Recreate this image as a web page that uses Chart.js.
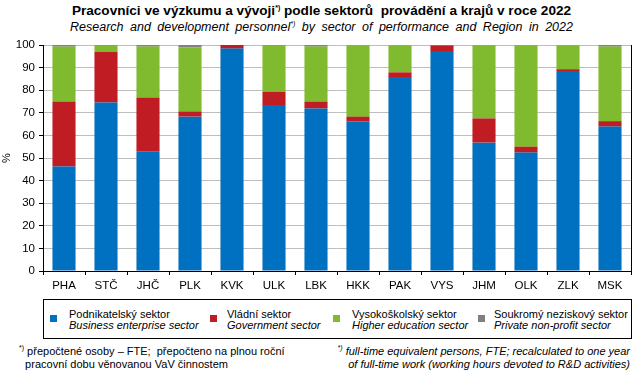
<html><head>
<meta charset="UTF-8">
<title>Pracovníci ve výzkumu a vývoji podle sektorů provádění a krajů v roce 2022</title>
<style>
  body {
    margin: 0;
    width: 643px;
    height: 376px;
    background: #fff;
    font-family: "Liberation Sans", Arial, sans-serif;
    position: relative;
    overflow: hidden;
  }
  #title {
    position: absolute;
    left: 0; width: 643px; top: 3px;
    text-align: center;
    font-weight: bold;
    font-size: 13.6px;
    line-height: 16px;
    color: #000;
  }
  #subtitle {
    position: absolute;
    left: 0; width: 643px; top: 19px;
    text-align: center;
    font-style: italic;
    font-size: 12.5px;
    line-height: 16px;
    word-spacing: 3px;
  }
  sup { font-size: 7px; vertical-align: 5px; line-height: 0; }
  #chart {
    position: absolute;
    left: 0; top: 0;
    width: 643px; height: 296px;
  }
  #legend {
    position: absolute;
    left: 43px; top: 299px;
    width: 587px; height: 38px;
    border: 1px solid #000;
    font-size: 11px;
    line-height: 11px;
  }
  .item { position: absolute; top: 9px; }
  .item i.box {
    position: absolute; left: 0; top: 6px;
    width: 7px; height: 7px;
  }
  .item span { position: absolute; white-space: nowrap; }
  .en { font-style: italic; }
  .note {
    position: absolute;
    font-size: 11px;
    line-height: 13px;
    white-space: nowrap;
  }
</style>
<script src="https://cdn.jsdelivr.net/npm/chart.js"></script>
</head>
<body>
  <div id="title">Pracovníci ve výzkumu a vývoji<sup>*)</sup> podle sektorů&nbsp; provádění a krajů v roce 2022</div>
  <div id="subtitle">Research and development personnel<sup>*)</sup> by sector of performance and Region in 2022</div>
  <div id="chart"><canvas id="rdChart"></canvas></div>
  <div id="legend"></div>
  <div class="note" style="left:19px; top:345px;"><sup>*)</sup> přepočtené osoby – FTE;&nbsp; přepočteno na plnou roční<br>&nbsp;&nbsp;pracovní dobu věnovanou VaV činnostem</div>
  <div class="note en" style="right:13px; top:345px; text-align:right;"><sup>*)</sup> full-time equivalent persons, FTE; recalculated to one year<br>of full-time work (working hours devoted to R&amp;D activities)</div>

<script>
const regions = ['PHA', 'STČ', 'JHČ', 'PLK', 'KVK', 'ULK', 'LBK', 'HKK', 'PAK', 'VYS', 'JHM', 'OLK', 'ZLK', 'MSK'];

// shares in %
const business   = [46.2, 74.6, 53.0, 68.3, 98.4, 73.4, 71.9, 66.3, 85.8, 97.3, 56.8, 52.4, 88.5, 63.9];
const government = [28.8, 22.4, 23.8,  2.3,  1.6,  6.0,  3.1,  2.0,  2.1,  2.5, 10.7,  2.6,  0.8,  2.4];
const higherEdu  = [24.3,  2.7, 22.5, 28.4,  0.0, 20.3, 24.3, 31.5, 12.0,  0.0, 32.3, 44.8, 10.6, 33.0];
const nonProfit  = [ 0.7,  0.3,  0.7,  1.0,  0.0,  0.3,  0.7,  0.2,  0.1,  0.2,  0.2,  0.2,  0.1,  0.7];

const yTicks = [0, 10, 20, 30, 40, 50, 60, 70, 80, 90, 100];

const sectorsCz = ['Podnikatelský sektor', 'Vládní sektor', 'Vysokoškolský sektor', 'Soukromý neziskový sektor'];
const sectorsEn = ['Business enterprise sector', 'Government sector', 'Higher education sector', 'Private non-profit sector'];
const colors = ['#0070c0', '#c01c24', '#80ba2e', '#808080'];

// legend built as html (two-line labels)
const legendX = [6, 166, 289, 434];
const legendTextX = [19, 17, 19, 16];
const legend = document.getElementById('legend');
sectorsCz.forEach((name, i) => {
  const d = document.createElement('div');
  d.className = 'item';
  d.style.left = legendX[i] + 'px';
  d.innerHTML = '<i class="box" style="background:' + colors[i] + '"></i>' +
    '<span style="left:' + legendTextX[i] + 'px; top:0">' + name + '</span>' +
    '<span class="en" style="left:' + legendTextX[i] + 'px; top:11px">' + sectorsEn[i] + '</span>';
  legend.appendChild(d);
});

Chart.defaults.font.family = '"Liberation Sans", Arial, sans-serif';
Chart.defaults.font.size = 11;
Chart.defaults.color = '#000';

const series = [business, government, higherEdu, nonProfit];

new Chart(document.getElementById('rdChart'), {
  type: 'bar',
  data: {
    labels: regions,
    datasets: series.map((data, i) => ({
      label: sectorsCz[i],
      data: data,
      backgroundColor: colors[i],
      borderWidth: 0,
      barPercentage: 0.55,
      categoryPercentage: 1
    }))
  },
  options: {
    responsive: true,
    maintainAspectRatio: false,
    animation: false,
    layout: { padding: { top: 45, right: 12, left: 0, bottom: 0 } },
    plugins: {
      legend: { display: false },
      tooltip: { enabled: false }
    },
    scales: {
      x: {
        stacked: true,
        offset: true,
        grid: {
          offset: true,
          drawOnChartArea: false,
          tickLength: 4,
          tickColor: '#000'
        },
        border: { color: '#000' },
        ticks: { padding: 4, font: { size: 11.5 } },
        afterFit: s => { s.height = 25; }
      },
      y: {
        stacked: true,
        min: 0,
        max: 100,
        afterBuildTicks: s => { s.ticks = yTicks.map(v => ({ value: v })); },
        grid: { color: '#bdbdbd', tickLength: 4, tickColor: '#000' },
        border: { color: '#000' },
        ticks: { padding: 4, font: { size: 11.5 } },
        title: { display: true, text: '%', padding: { top: 0, bottom: 0 }, font: { size: 11 } },
        afterFit: s => { s.width = 43; }
      },
      y2: {
        position: 'right',
        min: 0,
        max: 100,
        grid: { display: false },
        border: { color: '#000' },
        ticks: { display: false },
        afterFit: s => { s.width = 0; }
      }
    }
  }
});
</script>
</body></html>
